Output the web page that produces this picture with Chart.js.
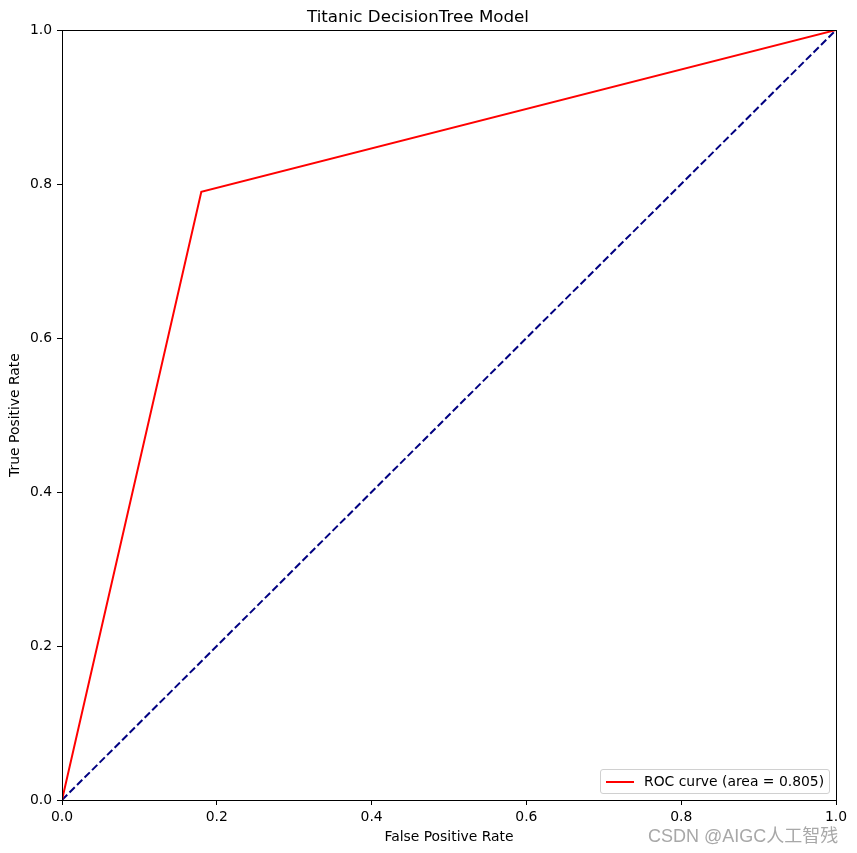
<!DOCTYPE html>
<html><head><meta charset="utf-8">
<script src="https://cdn.jsdelivr.net/npm/chart.js@4/dist/chart.umd.min.js"></script>
<style>
html,body{margin:0;padding:0;background:#fff;}
#wrap{position:relative;width:857px;height:853px;}
#legend{position:absolute;left:600px;top:769px;width:228px;height:23px;border:1px solid #d0d0d0;border-radius:3px;background:rgba(255,255,255,0.8);font-family:"DejaVu Sans",sans-serif;font-size:13.9px;color:#000;}
#legend .ln{position:absolute;left:5px;top:11px;width:28px;height:2px;background:#ff0000;}
#legend .tx{position:absolute;left:43px;top:3px;white-space:nowrap;}
#wm{position:absolute;left:648px;top:821px;font-family:"Liberation Sans","Noto Sans CJK SC",sans-serif;font-size:18px;color:#a8a8a8;white-space:nowrap;}
</style></head>
<body><div id="wrap"><canvas id="c" width="857" height="853"></canvas>
<div id="legend"><div class="ln"></div><div class="tx">ROC curve (area = 0.805)</div></div>
<div id="wm">CSDN @AIGC人工智残</div></div>
<script>
const fpr = [0, 0.18, 1];
const tpr = [0, 0.79, 1];
const diagX = [0, 1];
const diagY = [0, 1];
const tickValues = [0, 0.2, 0.4, 0.6, 0.8, 1.0];
const roc = fpr.map((x,i)=>({x:x,y:tpr[i]}));
const diag = diagX.map((x,i)=>({x:x,y:diagY[i]}));
const font = {family:"DejaVu Sans", size:13.9};
const frame = {id:'frame', afterDraw(ch){const a=ch.chartArea,c=ch.ctx;c.save();c.strokeStyle='#000';c.lineWidth=1;c.strokeRect(Math.round(a.left)+0.5,Math.round(a.top)+0.5,Math.round(a.right-a.left),Math.round(a.bottom-a.top));c.restore();}};
new Chart(document.getElementById('c'),{
  type:'scatter',
  data:{datasets:[
    {label:'ROC curve (area = 0.805)',data:roc,showLine:true,borderColor:'#ff0000',borderWidth:2,pointRadius:0,fill:false,tension:0},
    {label:'diag',data:diag,showLine:true,borderColor:'#000080',borderWidth:2,borderDash:[7.4,3.2],pointRadius:0,fill:false}
  ]},
  options:{
    responsive:false,animation:false,
    layout:{padding:{left:0,right:21,top:0,bottom:0}},
    plugins:{legend:{display:false},tooltip:{enabled:false},
      title:{display:true,text:'Titanic DecisionTree Model',color:'#000',font:{family:"DejaVu Sans",size:16.7,weight:'normal'},padding:{top:8,bottom:2}}},
    scales:{
      x:{type:'linear',min:0,max:1,
        afterFit(s){s.height=53;},
        afterBuildTicks(s){s.ticks=tickValues.map(v=>({value:v}));},
        ticks:{color:'#000',font:font,padding:4,maxRotation:0,callback:v=>v.toFixed(1)},
        grid:{drawOnChartArea:false,tickLength:5,color:'#000',tickWidth:1},
        border:{color:'#000',width:1},
        title:{display:true,text:'False Positive Rate',color:'#000',font:font,padding:{top:0,bottom:7}}},
      y:{type:'linear',min:0,max:1,
        afterFit(s){s.width=62;},
        afterBuildTicks(s){s.ticks=tickValues.map(v=>({value:v}));},
        ticks:{color:'#000',font:font,padding:5,callback:v=>v.toFixed(1)},
        grid:{drawOnChartArea:false,tickLength:5,color:'#000',tickWidth:1},
        border:{color:'#000',width:1},
        title:{display:true,text:'True Positive Rate',color:'#000',font:font,padding:{top:7,bottom:0}}}
    }
  },
  plugins:[frame]
});
</script></body></html>
